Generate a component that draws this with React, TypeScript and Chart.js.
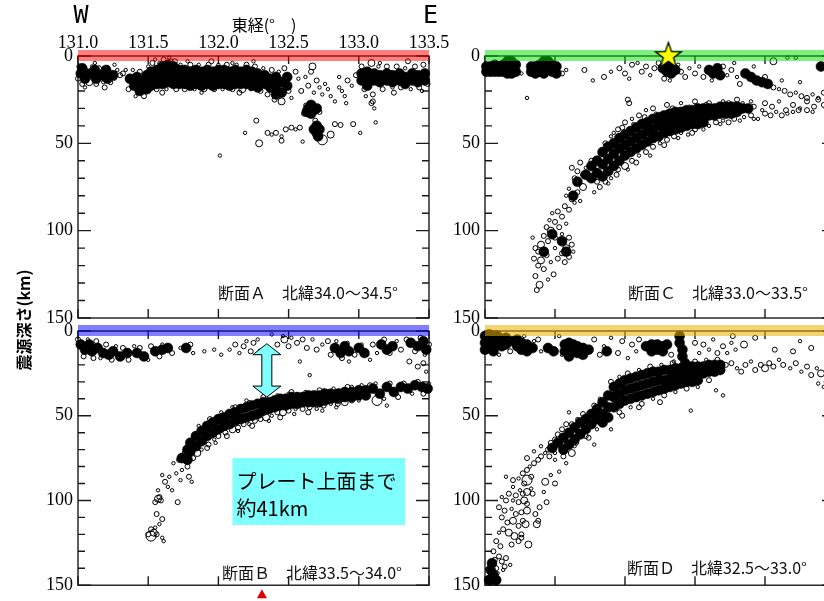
import React, { useEffect, useRef } from "react";
import { Chart, registerables } from "chart.js";

Chart.register(...registerables);

// Axis ranges: longitude (degrees east) and hypocentre depth (km)
const LON_MIN = 131.0;
const LON_MAX = 133.5;
const DEPTH_MIN = 0;
const DEPTH_MAX = 150;
const LON_TICKS = [131.0, 131.5, 132.0, 132.5, 133.0, 133.5];
const DEPTH_TICKS = [0, 50, 100, 150];
const DEPTH_MINOR = 10;

const TITLE_X = "東経(°　)";
const TITLE_Y = "震源深さ(km)";
const WEST = "W";
const EAST = "E";

const CAPTION_A = "断面Ａ　北緯34.0～34.5°";
const CAPTION_B = "断面Ｂ　北緯33.5～34.0°";
const CAPTION_C = "断面Ｃ　北緯33.0～33.5°";
const CAPTION_D = "断面Ｄ　北緯32.5～33.0°";

// Main shock epicentre [lon, depth]
const EPICENTER = [132.31, 0];

// Distance from the shallow crust to the top of the plate (section B)
const GAP_LON = 132.345;
const GAP_DEPTHS = [7.5, 39];
const NOTE_LINES = ["プレート上面まで", "約41km"];
const NOTE_LON = [132.1, 133.33];
const NOTE_DEPTH = [75, 114.5];

// Individual events: [lon, depth, size class 1..4]
// Dense swarms: [lon, depth, depth, ...]

const A_SWARM = [
  [131.02, 10], [131.03, 7], [131.05, 13], [131.09, 10], [131.12, 8], [131.13, 13], [131.17, 11], [131.2, 8], [131.21, 13], [131.25, 11],
  [131.37, 13], [131.4, 17], [131.42, 12], [131.44, 20], [131.46, 15], [131.49, 11, 19],
  [131.52, 9, 13, 17], [131.56, 8, 12, 16], [131.6, 6, 11, 16], [131.64, 5, 10, 15], [131.68, 6, 11, 16], [131.72, 8, 12, 16],
  [131.76, 8, 12, 16], [131.8, 9, 13, 17], [131.84, 8, 12, 16], [131.88, 9, 13, 17], [131.92, 8, 12, 16], [131.96, 9, 13, 17],
  [132.0, 8, 12, 16], [132.04, 8, 12, 16], [132.08, 9, 13, 17], [132.12, 8, 12, 16], [132.16, 9, 13, 16], [132.2, 8, 12, 16],
  [132.24, 9, 13, 17], [132.28, 10, 14, 18], [132.33, 11, 16], [132.37, 13, 18], [132.41, 12, 17, 22], [132.45, 15, 21], [132.49, 12, 17],
  [132.64, 30], [132.66, 28, 33], [132.68, 31], [132.63, 32], [132.7, 30],
  [132.68, 42], [132.7, 40, 44], [132.72, 42], [132.71, 46],
  [133.02, 10, 14], [133.06, 9, 13, 17], [133.11, 10, 14], [133.15, 11, 15], [133.2, 10, 14], [133.24, 11, 15],
  [133.29, 10, 14], [133.33, 12, 16], [133.38, 10, 14], [133.42, 11, 15], [133.47, 10, 14],
];

const A_EVENTS = [
  [131.01, 6, 2], [131.0, 13, 2], [131.03, 16, 2], [131.06, 8, 1], [131.08, 15, 3], [131.1, 6, 1], [131.13, 16, 2], [131.15, 7, 2],
  [131.18, 15, 1], [131.21, 7, 2], [131.23, 15, 2], [131.26, 13, 1], [131.28, 8, 1], [131.3, 11, 2], [131.32, 10, 2], [131.34, 8, 1],
  [131.36, 19, 2], [131.39, 8, 1], [131.41, 23, 1], [131.44, 9, 2], [131.47, 23, 2], [131.5, 6, 1], [131.53, 4, 2], [131.56, 19, 2],
  [131.58, 4, 1], [131.61, 2, 2], [131.63, 19, 1], [131.65, 1, 1], [131.66, 3, 2], [131.69, 3, 2], [131.7, 19, 2], [131.73, 5, 1],
  [131.76, 19, 2], [131.8, 5, 2], [131.83, 19, 1], [131.86, 5, 1], [131.9, 19, 2], [131.93, 5, 2], [131.97, 19, 2], [132.0, 5, 1],
  [132.03, 19, 1], [132.06, 5, 2], [132.1, 19, 2], [132.13, 5, 1], [132.17, 19, 3], [132.2, 5, 2], [132.23, 19, 1], [132.26, 6, 2],
  [132.3, 20, 2], [132.32, 7, 1], [132.35, 22, 2], [132.38, 8, 2], [132.4, 25, 2], [132.43, 9, 1], [132.45, 26, 3], [132.47, 7, 2],
  [132.5, 20, 2], [132.52, 24, 1], [132.55, 9, 2], [132.57, 13, 1], [132.59, 20, 2], [132.62, 12, 1], [132.64, 17, 2], [132.66, 9, 2],
  [132.67, 6, 3], [132.68, 21, 1], [132.7, 14, 2], [132.72, 18, 1], [132.74, 22, 1], [132.76, 16, 1], [132.78, 19, 1], [132.8, 23, 1],
  [132.83, 26, 1], [132.86, 12, 1], [132.86, 18, 1], [132.88, 20, 1], [132.9, 23, 1], [132.92, 14, 2], [132.95, 17, 1], [132.98, 11, 2],
  [133.02, 6, 2], [133.04, 19, 2], [133.09, 4, 3], [133.1, 22, 2], [133.1, 26, 2], [133.11, 30, 1], [133.14, 6, 1], [133.17, 19, 2],
  [133.2, 6, 2], [133.24, 18, 1], [133.27, 6, 2], [133.3, 18, 2], [133.33, 7, 1], [133.37, 19, 1], [133.4, 6, 2], [133.43, 18, 2],
  [133.46, 5, 2], [133.49, 16, 2],
  [131.05, 18, 1], [131.12, 4, 1], [131.19, 18, 2], [131.26, 5, 1], [131.55, 2, 1], [131.78, 3, 1], [131.95, 3, 2], [132.1, 4, 1],
  [132.25, 3, 1], [132.15, 21, 2], [131.88, 21, 1], [131.6, 21, 2], [133.15, 4, 1], [133.35, 3, 2], [133.45, 20, 1], [133.25, 21, 2],
  [133.05, 23, 1],
  [132.27, 37, 2], [132.19, 44, 1], [132.29, 50, 3], [132.01, 57, 1], [132.35, 44, 2], [132.38, 45, 1], [132.41, 44, 2], [132.45, 46, 1],
  [132.45, 48.5, 2], [132.48, 42, 2], [132.52, 41, 2], [132.55, 42, 1], [132.58, 41, 2], [132.6, 49, 1], [132.74, 48, 4], [132.8, 45, 3],
  [132.83, 39, 2], [132.87, 39.5, 2], [132.96, 39, 2], [133.01, 44, 1], [133.12, 38, 1], [132.91, 27, 1], [133.09, 27, 2], [132.69, 37, 2],
  [132.61, 33, 2], [132.72, 32, 2], [132.62, 28, 1],
];

const B_SWARM = [
  [131.02, 8], [131.05, 11], [131.08, 8], [131.1, 12], [131.14, 10], [131.18, 13], [131.22, 14], [131.25, 12], [131.3, 15], [131.35, 13],
  [131.42, 13], [131.47, 15], [131.55, 12], [131.6, 11], [131.64, 10], [131.77, 10], [132.83, 10], [132.87, 13], [132.9, 9], [132.93, 12],
  [133.0, 10], [133.04, 13], [133.16, 8], [133.2, 11], [133.24, 9], [133.37, 7], [133.42, 9], [133.46, 6], [133.48, 11],
  [131.74, 75], [131.78, 70, 76], [131.8, 66, 71], [131.84, 62, 68], [131.88, 59, 65], [131.92, 56, 62], [131.96, 54, 60], [132.0, 52, 58],
  [132.04, 51, 56], [132.08, 49, 55], [132.12, 48, 53], [132.16, 46, 52], [132.2, 45, 51], [132.24, 44, 50], [132.28, 43, 49],
  [132.32, 42, 47], [132.36, 42, 46], [132.4, 41, 45], [132.44, 40, 44], [132.48, 40, 44], [132.52, 39, 43], [132.56, 39, 43],
  [132.6, 39, 42], [132.64, 38, 42], [132.68, 38, 42], [132.72, 38, 42], [132.76, 37, 41], [132.8, 37, 40], [132.85, 37, 40],
  [132.9, 36, 39], [132.95, 36, 39], [133.0, 35, 38], [133.05, 35, 38], [133.1, 34], [133.15, 37], [133.2, 33], [133.25, 36],
  [133.3, 33], [133.35, 34], [133.4, 32], [133.45, 33], [133.49, 34],
];

const B_EVENTS = [
  [131.0, 5, 2], [131.04, 15, 2], [131.07, 5, 1], [131.11, 16, 2], [131.13, 6, 2], [131.16, 16, 1], [131.2, 8, 2], [131.24, 17, 2],
  [131.27, 9, 1], [131.32, 10, 2], [131.36, 17, 2], [131.4, 9, 1], [131.44, 10, 2], [131.5, 17, 1], [131.52, 9, 2], [131.58, 15, 2],
  [131.6, 8, 1], [131.67, 13, 2], [131.73, 10, 1], [131.8, 8, 2], [131.82, 13, 1], [131.9, 12, 1], [131.97, 11, 1], [132.02, 14, 1],
  [132.08, 11, 1], [132.12, 8, 2], [132.15, 13, 1], [132.18, 9, 2], [132.2, 6, 1], [132.23, 12, 2], [132.25, 7, 2], [132.28, 5, 1],
  [132.3, 12, 2], [132.38, 2, 1], [132.46, 3, 1], [132.42, 8, 2], [132.47, 5, 3], [132.5, 9, 2], [132.52, 4, 1], [132.56, 7, 2],
  [132.6, 5, 2], [132.63, 10, 2], [132.67, 5, 1], [132.7, 11, 2], [132.74, 8, 1], [132.78, 6, 2], [132.8, 14, 2], [132.84, 6, 1],
  [132.88, 16, 2], [132.92, 7, 1], [132.97, 14, 2], [133.02, 8, 1], [133.06, 14, 1], [133.1, 8, 2], [133.13, 13, 1], [133.18, 5, 2],
  [133.22, 13, 2], [133.27, 6, 1], [133.3, 11, 2], [133.34, 5, 2], [133.4, 12, 2], [133.44, 4, 2], [133.47, 14, 1], [133.5, 8, 2],
  [132.58, 18, 1], [132.65, 26, 1], [132.93, 18, 1], [133.08, 17, 1], [133.36, 18, 2], [133.42, 21, 2], [133.46, 19, 2], [133.48, 24, 1],
  [132.33, 30, 1],
  [131.68, 78, 1], [131.7, 84, 1], [131.72, 76, 2], [131.74, 82, 1], [131.76, 72, 2], [131.78, 80, 2], [131.79, 86, 2], [131.73, 88, 1],
  [131.81, 89, 1], [131.82, 75, 2], [131.85, 72, 3], [131.87, 59, 1], [131.88, 70, 1], [131.9, 58, 1], [131.93, 67, 2], [131.95, 57, 1],
  [131.97, 64, 1], [132.0, 62, 2], [132.02, 50, 1], [132.05, 60, 2], [132.1, 58, 3], [132.14, 57, 2], [132.18, 55, 2], [132.22, 55, 1],
  [132.26, 53, 2], [132.3, 52, 2], [132.34, 51, 3], [132.38, 50, 1], [132.42, 48, 2], [132.46, 48, 3], [132.5, 47, 2], [132.55, 46, 1],
  [132.6, 46, 2], [132.65, 45, 2], [132.7, 46, 1], [132.75, 44, 2], [132.8, 43, 1], [132.85, 43, 2], [132.9, 42, 3], [132.95, 41, 2],
  [133.0, 41, 1], [133.13, 41, 4], [133.08, 32, 2], [133.12, 31, 1], [133.18, 40, 1], [133.22, 31, 2], [133.28, 39, 2], [133.32, 31, 2],
  [133.38, 37, 1], [133.42, 30, 2], [133.46, 37, 2], [133.5, 31, 1], [132.86, 35, 1], [132.95, 33, 1], [132.75, 35, 1], [132.5, 37, 1],
  [132.2, 41, 1], [132.1, 45, 1], [133.2, 44, 1],
  [131.86, 56, 1], [131.94, 52, 2], [132.02, 48, 1], [132.12, 45, 2], [132.22, 42, 1], [132.32, 39, 2], [132.42, 38, 1], [132.52, 36, 2],
  [132.62, 36, 1], [132.72, 35, 2], [132.82, 34, 1], [132.92, 33, 2], [133.02, 32, 1], [131.92, 69, 2], [131.98, 66, 1], [132.06, 62, 2],
  [132.14, 59, 1], [132.24, 56, 2], [132.36, 53, 1], [132.44, 51, 2], [132.54, 49, 1], [132.64, 48, 2], [132.74, 47, 1], [132.84, 45, 1],
  [131.6, 85, 1], [131.62, 89, 2], [131.64, 92, 1], [131.67, 94, 1], [131.65, 86, 1], [131.57, 94, 1], [131.57, 99, 3], [131.55, 101, 2],
  [131.58, 98, 2], [131.59, 100, 2], [131.71, 101, 2], [131.56, 108, 2], [131.6, 111, 2], [131.58, 114, 1], [131.55, 116, 1],
  [131.52, 117, 2], [131.5, 120, 2], [131.54, 119, 3], [131.52, 121, 4], [131.56, 120, 2], [131.6, 122, 1], [131.61, 124, 1],
];

const C_SWARM = [
  [131.01, 6, 9], [131.04, 6, 9], [131.07, 5, 9], [131.1, 6, 9], [131.13, 5, 9], [131.16, 3, 7, 10], [131.19, 3, 7, 10], [131.22, 5, 9],
  [131.33, 6, 9], [131.36, 6, 10], [131.39, 5, 9], [131.42, 3, 7, 10], [131.45, 3, 7], [131.48, 5, 9], [131.51, 6, 10],
  [132.27, 7], [132.3, 5, 9], [132.33, 6, 10], [132.36, 8], [132.6, 8], [132.63, 10], [132.66, 7], [132.68, 11],
  [132.86, 10], [132.9, 12], [132.94, 14], [132.98, 15], [133.02, 16], [133.4, 6],
  [131.42, 112], [131.48, 102], [131.55, 106], [131.58, 112], [131.63, 80], [131.66, 72], [131.72, 68], [131.76, 63, 70], [131.8, 60, 67],
  [131.84, 55, 62, 69], [131.88, 52, 59, 66], [131.92, 50, 56, 63], [131.96, 47, 53, 60], [132.0, 45, 51, 57], [132.04, 43, 49, 55],
  [132.08, 41, 47, 53], [132.12, 39, 45, 51], [132.16, 38, 43, 49], [132.2, 36, 42, 47], [132.24, 35, 40, 46], [132.28, 34, 39, 44],
  [132.32, 33, 38, 43], [132.36, 32, 37, 42], [132.4, 32, 36, 41], [132.44, 31, 35, 40], [132.48, 31, 35, 39], [132.52, 30, 34, 39],
  [132.56, 30, 34, 38], [132.6, 30, 34], [132.64, 30, 34], [132.68, 29, 33], [132.72, 29, 33], [132.76, 29, 33], [132.8, 29, 32],
  [132.84, 30], [132.88, 30],
];

const C_EVENTS = [
  [131.55, 10, 2], [131.58, 8, 1], [131.26, 10, 1], [131.3, 24, 1], [131.71, 8, 2], [131.77, 14, 1], [131.85, 12, 2], [131.9, 9, 1],
  [131.96, 7, 2], [132.0, 10, 2], [132.03, 13, 1], [132.05, 5, 2], [132.09, 4, 1], [132.12, 9, 2], [132.15, 6, 2], [132.18, 11, 1],
  [132.21, 7, 2], [132.24, 4, 2], [132.28, 13, 2], [132.38, 5, 1], [132.4, 9, 2], [132.43, 12, 2], [132.46, 7, 1], [132.5, 10, 2],
  [132.53, 6, 1], [132.56, 12, 2], [132.7, 6, 2], [132.73, 11, 1], [132.76, 8, 2], [132.8, 12, 1], [132.82, 16, 2], [132.78, 4, 1],
  [133.0, 12, 2], [133.06, 18, 2], [133.1, 19, 1], [133.14, 20, 2], [133.18, 22, 2], [133.22, 21, 1], [133.26, 23, 2], [133.3, 24, 2],
  [133.34, 22, 1], [133.38, 25, 2], [133.42, 21, 2], [133.44, 9, 1], [133.06, 3, 3], [133.16, 1, 1], [133.22, 1, 1], [133.12, 14, 1],
  [133.25, 15, 1], [132.92, 6, 1], [132.02, 25, 2], [132.03, 27, 2], [132.32, 14, 1], [132.62, 14, 1],
  [131.9, 46, 1], [131.95, 42, 2], [132.0, 38, 2], [132.05, 36, 1], [132.1, 34, 2], [132.15, 31, 1], [132.2, 30, 2], [132.3, 28, 2],
  [132.4, 27, 1], [132.5, 26, 2], [132.6, 27, 2], [132.7, 26, 1], [132.8, 25, 2], [132.9, 26, 1], [133.0, 27, 2], [133.05, 29, 2],
  [133.1, 26, 1], [133.15, 31, 2], [133.2, 28, 2], [133.25, 30, 1], [133.3, 26, 2], [133.35, 29, 2], [133.42, 28, 2], [133.38, 24, 1],
  [131.86, 72, 2], [131.9, 70, 1], [131.95, 65, 2], [132.0, 63, 3], [132.05, 60, 2], [132.1, 57, 1], [132.15, 55, 2], [132.2, 52, 2],
  [132.25, 50, 1], [132.3, 48, 2], [132.35, 46, 2], [132.4, 44, 1], [132.45, 45, 1], [132.5, 42, 2], [132.6, 40, 1], [132.65, 38, 2],
  [132.7, 37, 1], [132.78, 36, 2], [132.85, 35, 1], [132.9, 34, 2], [132.95, 36, 1], [133.0, 33, 2], [133.08, 32, 1], [133.12, 34, 2],
  [133.2, 32, 1], [133.3, 31, 2],
  [131.86, 50, 2], [131.92, 44, 1], [131.98, 41, 2], [132.06, 39, 1], [132.14, 35, 2], [132.22, 33, 1], [132.34, 30, 2], [132.46, 29, 1],
  [132.58, 28, 2], [132.74, 27, 2], [132.84, 27, 1], [132.92, 29, 2], [132.98, 31, 1], [131.82, 75, 2], [131.88, 73, 1], [131.94, 68, 2],
  [132.02, 65, 1], [132.08, 61, 2], [132.18, 57, 1], [132.28, 51, 2], [132.38, 47, 1], [132.48, 44, 2], [132.56, 42, 1], [132.68, 39, 1],
  [132.74, 38, 2], [132.82, 37, 1], [132.92, 36, 1], [133.04, 34, 2], [133.16, 33, 1], [133.24, 31, 2], [133.34, 32, 1], [133.44, 30, 2],
  [131.62, 64, 2], [131.64, 70, 2], [131.66, 66, 2], [131.68, 61, 2], [131.7, 75, 3], [131.66, 78, 2], [131.72, 64, 1], [131.74, 70, 2],
  [131.6, 76, 1], [131.62, 82, 2], [131.58, 80, 1], [131.57, 86, 2], [131.6, 88, 2], [131.64, 84, 1], [131.52, 89, 2], [131.55, 92, 2],
  [131.48, 90, 1], [131.5, 95, 2], [131.46, 94, 1], [131.44, 98, 2], [131.47, 100, 3], [131.53, 98, 2], [131.58, 96, 1], [131.42, 103, 2],
  [131.45, 106, 2], [131.5, 104, 2], [131.55, 102, 1], [131.6, 104, 2], [131.62, 108, 2], [131.58, 110, 3], [131.55, 113, 2],
  [131.5, 110, 1], [131.4, 108, 3], [131.38, 112, 2], [131.36, 110, 2], [131.35, 116, 2], [131.4, 117, 3], [131.44, 114, 2],
  [131.47, 118, 1], [131.52, 116, 2], [131.57, 118, 2], [131.6, 115, 2], [131.63, 112, 1], [131.38, 120, 2], [131.42, 122, 2],
  [131.36, 126, 2], [131.39, 131, 3], [131.37, 134, 2], [131.49, 125, 2], [131.45, 128, 1], [131.34, 104, 1], [131.7, 68, 2],
  [131.76, 60, 2], [131.8, 72, 2], [131.78, 78, 1], [131.68, 83, 1], [131.82, 57, 1],
];

const D_SWARM = [
  [131.0, 3, 7, 11], [131.03, 2, 6, 10], [131.06, 4, 8, 12], [131.09, 3, 7], [131.12, 5, 9], [131.15, 4, 8], [131.2, 6], [131.23, 5, 9],
  [131.26, 7, 11], [131.3, 8, 12], [131.34, 10], [131.45, 10], [131.49, 12], [131.57, 8, 12], [131.6, 7, 11, 15], [131.63, 8, 12],
  [131.66, 9, 13], [131.7, 10, 14], [131.74, 11], [131.87, 12], [132.15, 9], [132.19, 8, 12], [132.23, 8, 11], [132.27, 9, 12],
  [132.3, 8], [132.39, 3, 7], [132.41, 11, 15], [132.43, 19],
  [131.92, 33, 39, 45], [131.96, 31, 37, 43], [132.0, 29, 35, 41], [132.04, 28, 34, 40], [132.08, 27, 33, 39], [132.12, 26, 32, 38],
  [132.16, 25, 31, 37], [132.2, 24, 30, 36], [132.24, 24, 29, 35], [132.28, 23, 29, 34], [132.32, 23, 28, 33], [132.36, 22, 27, 32],
  [132.4, 22, 27, 31], [132.44, 22, 26, 30], [132.48, 21, 26, 30], [132.52, 21, 25, 29], [132.56, 21, 25], [132.6, 20, 24],
  [132.64, 20, 24], [132.68, 20, 23],
  [131.88, 38, 45, 51], [131.84, 42, 49, 54], [131.8, 46, 52], [131.76, 49, 55], [131.72, 52, 58], [131.68, 54, 61], [131.64, 57, 64],
  [131.6, 60, 67], [131.56, 63, 70], [131.52, 66], [131.48, 69],
  [131.04, 141], [131.06, 144], [131.03, 147], [131.08, 147], [131.05, 137],
];

const D_EVENTS = [
  [131.35, 6, 1], [131.38, 5, 2], [131.4, 12, 1], [131.53, 3, 1], [131.55, 14, 1], [131.78, 5, 2], [131.82, 14, 2], [131.85, 9, 1],
  [131.9, 4, 1], [131.95, 13, 2], [131.98, 6, 2], [132.02, 16, 1], [132.05, 8, 2], [132.08, 12, 1], [132.1, 5, 2], [132.33, 14, 2],
  [132.35, 18, 1], [132.5, 7, 2], [132.53, 13, 1], [132.56, 8, 2], [132.6, 11, 1], [132.63, 5, 1], [132.66, 13, 2], [132.7, 9, 2],
  [132.73, 13, 1], [132.76, 7, 1], [132.77, 3, 2], [132.79, 11, 1], [132.85, 8, 3], [132.93, 4, 2], [133.07, 11, 2], [133.2, 12, 2],
  [133.25, 6, 1], [133.33, 10, 2], [131.1, 14, 1], [131.18, 12, 2], [131.28, 3, 1],
  [132.72, 20, 2], [132.76, 19, 2], [132.8, 22, 1], [132.83, 24, 2], [132.86, 20, 2], [132.9, 18, 1], [132.93, 23, 2], [132.97, 20, 2],
  [133.0, 22, 3], [133.03, 19, 2], [133.06, 21, 2], [133.1, 17, 1], [133.13, 20, 2], [133.18, 22, 1], [133.22, 19, 2], [133.26, 24, 1],
  [133.3, 21, 2], [133.33, 26, 2], [133.37, 22, 1], [133.4, 25, 3], [133.44, 30, 2], [133.42, 33, 1], [133.48, 26, 2], [133.38, 31, 1],
  [132.65, 35, 1], [132.7, 38, 1], [132.47, 47, 1], [132.25, 42, 2], [132.1, 45, 2], [131.98, 50, 2], [131.9, 58, 1], [131.78, 67, 1],
  [131.9, 30, 2], [131.96, 27, 1], [132.02, 25, 2], [132.1, 23, 1], [132.18, 21, 2], [132.26, 20, 1], [132.34, 19, 2], [132.42, 18, 1],
  [132.5, 18, 2], [132.58, 17, 1], [132.66, 17, 2], [131.96, 48, 2], [132.04, 45, 1], [132.12, 43, 2], [132.2, 40, 1], [132.28, 38, 2],
  [132.36, 36, 1], [132.44, 34, 2], [132.52, 33, 1], [132.6, 29, 2], [131.7, 49, 2], [131.66, 52, 1], [131.62, 55, 2], [131.82, 40, 1],
  [131.78, 44, 2], [131.5, 72, 1], [131.56, 74, 2], [131.64, 68, 1], [131.72, 62, 2], [131.8, 58, 1],
  [131.58, 55, 2], [131.6, 48, 1], [131.55, 58, 2], [131.52, 61, 2], [131.5, 64, 2], [131.47, 66, 2], [131.45, 70, 2], [131.43, 72, 1],
  [131.4, 74, 2], [131.38, 76, 2], [131.35, 78, 2], [131.32, 80, 1], [131.3, 82, 2], [131.27, 84, 2], [131.4, 68, 1], [131.46, 74, 2],
  [131.5, 76, 1], [131.55, 68, 2], [131.62, 72, 3], [131.65, 66, 2], [131.7, 62, 1], [131.74, 63, 2], [131.58, 78, 1], [131.53, 83, 1],
  [131.35, 71, 1], [131.3, 75, 2],
  [131.15, 86, 1], [131.2, 88, 2], [131.24, 87, 1], [131.28, 90, 2], [131.3, 88, 4], [131.33, 86, 2], [131.2, 92, 1], [131.25, 94, 1],
  [131.17, 96, 2], [131.22, 97, 2], [131.27, 96, 2], [131.3, 95, 3], [131.33, 93, 1], [131.12, 98, 1], [131.15, 100, 2], [131.2, 100, 1],
  [131.24, 101, 2], [131.28, 100, 3], [131.3, 102, 2], [131.1, 104, 2], [131.14, 106, 2], [131.19, 105, 1], [131.22, 108, 2],
  [131.26, 107, 2], [131.3, 106, 3], [131.12, 110, 2], [131.16, 113, 2], [131.2, 112, 3], [131.24, 115, 2], [131.27, 112, 2],
  [131.29, 114, 3], [131.13, 117, 2], [131.17, 119, 3], [131.21, 121, 3], [131.24, 124, 2], [131.19, 126, 2], [131.26, 122, 2],
  [131.1, 119, 1], [131.08, 124, 2], [131.11, 127, 2], [131.06, 130, 2], [131.1, 133, 2], [131.07, 135, 2], [131.04, 138, 2],
  [131.08, 140, 2], [131.12, 136, 2], [131.15, 134, 2], [131.14, 139, 2], [131.18, 138, 1], [131.04, 143, 2], [131.07, 145, 2],
  [131.02, 146, 2], [131.05, 148, 2], [131.09, 143, 1], [131.13, 141, 1],
  [131.37, 114, 3], [131.43, 89, 3], [131.5, 90, 2], [131.44, 101, 2], [131.39, 104, 2], [131.38, 112, 2], [131.31, 126, 3],
  [131.26, 120, 2], [131.34, 96, 2], [131.36, 108, 2], [131.42, 95, 1], [131.47, 85, 1],
];

const SERIF = '"Liberation Serif", "Times New Roman", serif';
const GOTHIC = '"Noto Sans CJK JP", "Noto Sans", sans-serif';
const MONO = '"DejaVu Sans Mono", monospace';
const INK = "#1a1a1a";
const CANVAS_W = 850;
const CANVAS_H = 601;

const toEvents = (rows) => rows.map(([x, y, m]) => ({ x, y, m }));
const toSwarm = (cols) => cols.flatMap(([x, ...ds]) => ds.map((y) => ({ x, y })));
const RING_RADIUS = [0, 1.7, 2.5, 3.5, 5];
const SWARM_RADIUS = 5;

function makeStar(r) {
  const half = Math.ceil(r + 3);
  const c = document.createElement("canvas");
  c.width = half * 2;
  c.height = half * 2;
  const g = c.getContext("2d");
  g.beginPath();
  for (let i = 0; i < 10; i++) {
    const rr = i % 2 === 0 ? r : r * 0.4;
    const ang = -Math.PI / 2 + (i * Math.PI) / 5;
    const px = half + rr * Math.cos(ang);
    const py = half + rr * Math.sin(ang);
    if (i === 0) g.moveTo(px, py);
    else g.lineTo(px, py);
  }
  g.closePath();
  g.fillStyle = "#ffff00";
  g.fill();
  g.lineWidth = 1.3;
  g.strokeStyle = "#000";
  g.stroke();
  return c;
}

const SECTIONS = [
  { id: "A", swarm: A_SWARM, events: A_EVENTS, caption: CAPTION_A, band: "rgba(255,0,0,0.5)", lonLabels: true, star: false,
    pad: { left: 0, top: 0, right: 421, bottom: 283 }, yWidth: 78, xHeight: 56, capDx: 31, capDy: 237 },
  { id: "B", swarm: B_SWARM, events: B_EVENTS, caption: CAPTION_B, band: "rgba(0,0,255,0.5)", lonLabels: false, star: false,
    pad: { left: 0, top: 0, right: 421, bottom: 8 }, yWidth: 78, xHeight: 331, capDx: 27, capDy: 242 },
  { id: "C", swarm: C_SWARM, events: C_EVENTS, caption: CAPTION_C, band: "rgba(0,225,0,0.5)", lonLabels: false, star: true,
    pad: { left: 400, top: 0, right: 15, bottom: 283 }, yWidth: 85, xHeight: 56, capDx: 27, capDy: 237 },
  { id: "D", swarm: D_SWARM, events: D_EVENTS, caption: CAPTION_D, band: "rgba(235,175,0,0.55)", lonLabels: false, star: false,
    pad: { left: 400, top: 0, right: 15, bottom: 8 }, yWidth: 85, xHeight: 331, capDx: 28, capDy: 237 },
];

function drawHeader(ctx, area) {
  ctx.fillStyle = "#000";
  ctx.textAlign = "center";
  ctx.textBaseline = "alphabetic";
  ctx.font = `25px ${MONO}`;
  ctx.fillText(WEST, area.left + 3, 23);
  ctx.fillText(EAST, area.right + 1.5, 23);
  ctx.font = `16px ${GOTHIC}`;
  ctx.textBaseline = "middle";
  ctx.fillText(TITLE_X, 264, 25);
  ctx.save();
  ctx.translate(24, 320);
  ctx.rotate(-Math.PI / 2);
  ctx.font = `bold 16px ${GOTHIC}`;
  ctx.fillText(TITLE_Y, 0, 0);
  ctx.restore();
}

function drawGapNote(ctx, area, x, y) {
  // double-headed arrow between the shallow crust and the plate top
  const px = x.getPixelForValue(GAP_LON);
  const y1 = y.getPixelForValue(GAP_DEPTHS[0]);
  const y2 = y.getPixelForValue(GAP_DEPTHS[1]);
  const hw = 14, hl = 11, sw = 5;
  ctx.beginPath();
  ctx.moveTo(px, y1);
  ctx.lineTo(px + hw, y1 + hl);
  ctx.lineTo(px + sw, y1 + hl);
  ctx.lineTo(px + sw, y2 - hl);
  ctx.lineTo(px + hw, y2 - hl);
  ctx.lineTo(px, y2);
  ctx.lineTo(px - hw, y2 - hl);
  ctx.lineTo(px - sw, y2 - hl);
  ctx.lineTo(px - sw, y1 + hl);
  ctx.lineTo(px - hw, y1 + hl);
  ctx.closePath();
  ctx.fillStyle = "#80ffff";
  ctx.fill();
  ctx.lineWidth = 1;
  ctx.strokeStyle = "#000";
  ctx.stroke();

  const l = x.getPixelForValue(NOTE_LON[0]);
  const r = x.getPixelForValue(NOTE_LON[1]);
  const t = y.getPixelForValue(NOTE_DEPTH[0]);
  const b = y.getPixelForValue(NOTE_DEPTH[1]);
  ctx.fillStyle = "#80ffff";
  ctx.fillRect(l, t, r - l, b - t);
  ctx.fillStyle = "#000";
  ctx.font = `20px ${GOTHIC}`;
  ctx.textAlign = "left";
  ctx.textBaseline = "middle";
  ctx.fillText(NOTE_LINES[0], l + 4, t + 23);
  ctx.fillText(NOTE_LINES[1], l + 4, t + 50);

  // epicentre longitude marker under the section
  const mx = x.getPixelForValue(EPICENTER[0]);
  ctx.beginPath();
  ctx.moveTo(mx, area.bottom + 4);
  ctx.lineTo(mx + 5, area.bottom + 13);
  ctx.lineTo(mx - 5, area.bottom + 13);
  ctx.closePath();
  ctx.fillStyle = "#e00000";
  ctx.fill();
}

function sectionPlugin(sec) {
  return {
    id: "section" + sec.id,
    beforeDatasetsDraw(chart) {
      const { ctx, chartArea: a, scales } = chart;
      const x = scales.x, y = scales.y;
      ctx.save();
      ctx.strokeStyle = INK;
      ctx.lineWidth = 1.4;
      ctx.strokeRect(a.left, a.top, a.right - a.left, a.bottom - a.top);
      ctx.beginPath();
      for (let d = DEPTH_MIN; d <= DEPTH_MAX; d += DEPTH_MINOR) {
        const py = y.getPixelForValue(d);
        const len = d % 50 === 0 ? 13 : 7;
        ctx.moveTo(a.left, py);
        ctx.lineTo(a.left + len, py);
        ctx.moveTo(a.right, py);
        ctx.lineTo(a.right - len, py);
      }
      for (const v of LON_TICKS) {
        const px = x.getPixelForValue(v);
        ctx.moveTo(px, a.top);
        ctx.lineTo(px, a.top + 8);
        ctx.moveTo(px, a.bottom);
        ctx.lineTo(px, a.bottom - 9);
      }
      ctx.stroke();
      ctx.restore();
    },
    afterDatasetDraw(chart, args) {
      if (args.index !== 1) return;
      const { ctx, chartArea: a, scales } = chart;
      const y0 = scales.y.getPixelForValue(0);
      ctx.save();
      ctx.fillStyle = sec.band;
      ctx.fillRect(a.left, y0 - 6, a.right - a.left, 11);
      ctx.restore();
    },
    afterDraw(chart) {
      const { ctx, chartArea: a, scales } = chart;
      ctx.save();
      ctx.fillStyle = "#111";
      ctx.font = `16px ${GOTHIC}`;
      ctx.textAlign = "right";
      ctx.textBaseline = "middle";
      ctx.fillText(sec.caption, a.right - sec.capDx, a.top + sec.capDy);
      if (sec.id === "A") drawHeader(ctx, a);
      if (sec.id === "B") drawGapNote(ctx, a, scales.x, scales.y);
      ctx.restore();
    },
  };
}

function buildChart(canvas, sec, starImage) {
  const tickFont = { family: SERIF, size: 18 };
  return new Chart(canvas, {
    type: "scatter",
    data: {
      datasets: [
        {
          label: "main shock",
          data: sec.star ? [{ x: EPICENTER[0], y: EPICENTER[1] }] : [],
          pointStyle: starImage,
          pointRadius: 14,
          clip: false,
        },
        {
          label: "events",
          data: toEvents(sec.events),
          pointStyle: "circle",
          pointRadius: (ctx) => RING_RADIUS[(ctx.raw && ctx.raw.m) || 2],
          pointBackgroundColor: "rgba(0,0,0,0)",
          pointBorderColor: "#000",
          pointBorderWidth: 1,
          clip: false,
        },
        {
          label: "swarm",
          data: toSwarm(sec.swarm),
          pointStyle: "circle",
          pointRadius: SWARM_RADIUS,
          pointBackgroundColor: "#000",
          pointBorderColor: "#000",
          pointBorderWidth: 0.5,
          clip: false,
        },
      ],
    },
    options: {
      animation: false,
      responsive: false,
      devicePixelRatio: 1,
      events: [],
      layout: { padding: sec.pad },
      plugins: { legend: { display: false }, tooltip: { enabled: false } },
      scales: {
        x: {
          type: "linear",
          position: "top",
          min: LON_MIN,
          max: LON_MAX,
          afterBuildTicks: (axis) => {
            axis.ticks = LON_TICKS.map((v) => ({ value: v }));
          },
          afterFit: (axis) => {
            axis.height = sec.xHeight;
          },
          ticks: {
            display: sec.lonLabels,
            autoSkip: false,
            maxRotation: 0,
            minRotation: 0,
            padding: 2,
            color: "#000",
            font: tickFont,
            callback: (v) => Number(v).toFixed(1),
          },
          grid: { display: false, drawTicks: false },
          border: { display: false },
        },
        y: {
          type: "linear",
          position: "left",
          reverse: true,
          min: DEPTH_MIN,
          max: DEPTH_MAX,
          afterBuildTicks: (axis) => {
            axis.ticks = DEPTH_TICKS.map((v) => ({ value: v }));
          },
          afterFit: (axis) => {
            axis.width = sec.yWidth;
          },
          ticks: { padding: 5, color: "#000", font: tickFont, autoSkip: false },
          grid: { display: false, drawTicks: false },
          border: { display: false },
        },
      },
    },
    plugins: [sectionPlugin(sec)],
  });
}

export default function App() {
  const refs = [useRef(null), useRef(null), useRef(null), useRef(null)];

  useEffect(() => {
    const star = makeStar(13.5);
    const charts = SECTIONS.map((sec, i) => buildChart(refs[i].current, sec, star));
    return () => charts.forEach((c) => c.destroy());
  }, []);

  return (
    <div
      style={{
        position: "fixed",
        left: 0,
        top: 0,
        width: 824,
        height: 601,
        overflow: "hidden",
        background: "#fff",
      }}
    >
      {SECTIONS.map((sec, i) => (
        <canvas
          key={sec.id}
          ref={refs[i]}
          width={CANVAS_W}
          height={CANVAS_H}
          style={{ position: "absolute", left: 0, top: 0, width: CANVAS_W, height: CANVAS_H }}
        />
      ))}
    </div>
  );
}
